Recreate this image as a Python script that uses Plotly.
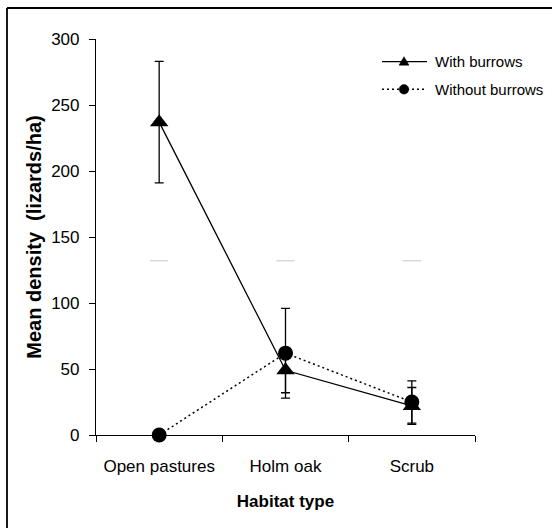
import plotly.graph_objects as go

categories = ["Open pastures", "Holm oak", "Scrub"]
cat_pos = [0.5, 1.5, 2.5]

series_names = ["With burrows", "Without burrows"]

with_burrows = [237, 49, 22]
with_burrows_err = [46, 17, 14]

without_burrows = [0, 62, 25]
without_burrows_err = [0, 34, 16]

ghost_marks = [132, 132, 132]

y_ticks = [0, 50, 100, 150, 200, 250, 300]

FONT = "Liberation Sans, Arial, sans-serif"

# plot-area geometry in pixels (used for the hand-made legend & frame)
L, R, T, B = 96, 475, 39, 435


def px(x):
    return (x - L) / (R - L)


def py(y):
    return (B - y) / (B - T)


fig = go.Figure()

fig.add_trace(go.Scatter(
    x=cat_pos, y=ghost_marks, mode="markers",
    marker=dict(symbol="line-ew", size=13, line=dict(color="#d0d0d0", width=1.2)),
    showlegend=False, hoverinfo="skip", cliponaxis=False))

fig.add_trace(go.Scatter(
    x=cat_pos, y=with_burrows, name=series_names[0],
    mode="lines+markers",
    line=dict(color="black", width=1.3),
    marker=dict(symbol="triangle-up", size=16, color="black"),
    error_y=dict(type="data", array=with_burrows_err, visible=True,
                 color="black", thickness=1.3, width=4.5),
    cliponaxis=False, showlegend=False))

fig.add_trace(go.Scatter(
    x=cat_pos, y=without_burrows, name=series_names[1],
    mode="lines+markers",
    line=dict(color="black", width=1.5, dash="2px,3px"),
    marker=dict(symbol="circle", size=15, color="black"),
    error_y=dict(type="data", array=without_burrows_err, visible=True,
                 color="black", thickness=1.3, width=4.5),
    cliponaxis=False, showlegend=False))

fig.update_layout(
    width=552, height=528,
    margin=dict(l=L, r=552 - R, t=T, b=528 - B),
    paper_bgcolor="white", plot_bgcolor="white",
    font=dict(family=FONT, color="black"),
    showlegend=False,
    xaxis=dict(
        range=[0, 3], showgrid=False, zeroline=False,
        showline=True, linecolor="black", linewidth=1.2,
        tickvals=cat_pos, ticktext=categories, ticks="",
        tickfont=dict(size=17, family=FONT), ticklabelstandoff=15,
        minor=dict(tick0=0, dtick=1, ticks="outside", ticklen=6,
                   tickcolor="black", tickwidth=1.2, showgrid=False),
        title=dict(text="<b>Habitat type</b>", font=dict(size=17, family=FONT),
                   standoff=20),
    ),
    yaxis=dict(
        range=[0, 300], showgrid=False, zeroline=False,
        showline=True, linecolor="black", linewidth=1.2,
        tickvals=y_ticks, ticks="outside", ticklen=6,
        tickcolor="black", tickwidth=1.2,
        tickfont=dict(size=17, family=FONT), ticklabelstandoff=6,
        title=dict(text="<b>Mean density  (lizards/ha)</b>",
                   font=dict(size=20, family=FONT), standoff=4),
    ),
)

# ---- hand-made legend (placed like the original, partly outside the axes)
rows = [61.7, 89.3]
line_x0, line_x1, mark_x, text_x = 382, 427, 404, 433
# row 1: solid line + triangle
fig.add_shape(type="line", xref="paper", yref="paper",
              x0=px(line_x0), x1=px(line_x1), y0=py(rows[0]), y1=py(rows[0]),
              line=dict(color="black", width=1.3))
tri = "M {},{} L {},{} L {},{} Z".format(
    px(mark_x - 5), py(rows[0] + 3.5), px(mark_x + 5), py(rows[0] + 3.5),
    px(mark_x), py(rows[0] - 5))
fig.add_shape(type="path", xref="paper", yref="paper", path=tri,
              fillcolor="black", line=dict(color="black", width=0.5))
# row 2: dotted line + circle
fig.add_shape(type="line", xref="paper", yref="paper",
              x0=px(line_x0), x1=px(line_x1), y0=py(rows[1]), y1=py(rows[1]),
              line=dict(color="black", width=1.5, dash="2px,3px"))
fig.add_shape(type="circle", xref="paper", yref="paper",
              x0=px(mark_x - 4.8), x1=px(mark_x + 4.8),
              y0=py(rows[1] + 4.8), y1=py(rows[1] - 4.8),
              fillcolor="black", line=dict(color="black", width=0.5))
for name, ry in zip(series_names, rows):
    fig.add_annotation(text=name, xref="paper", yref="paper",
                       x=px(text_x), y=py(ry), xanchor="left", yanchor="middle",
                       showarrow=False, font=dict(size=15, family=FONT, color="black"))

# outer frame (left and top edges visible; right/bottom run off the image)
fig.add_shape(type="line", xref="paper", yref="paper",
              x0=px(7), x1=px(7), y0=py(540), y1=py(8),
              line=dict(color="black", width=1.8))
fig.add_shape(type="line", xref="paper", yref="paper",
              x0=px(7), x1=px(560), y0=py(8), y1=py(8),
              line=dict(color="black", width=1.8))

fig.write_html("out.html", config={"displayModeBar": False},
               post_script="document.body.style.margin='0';")
